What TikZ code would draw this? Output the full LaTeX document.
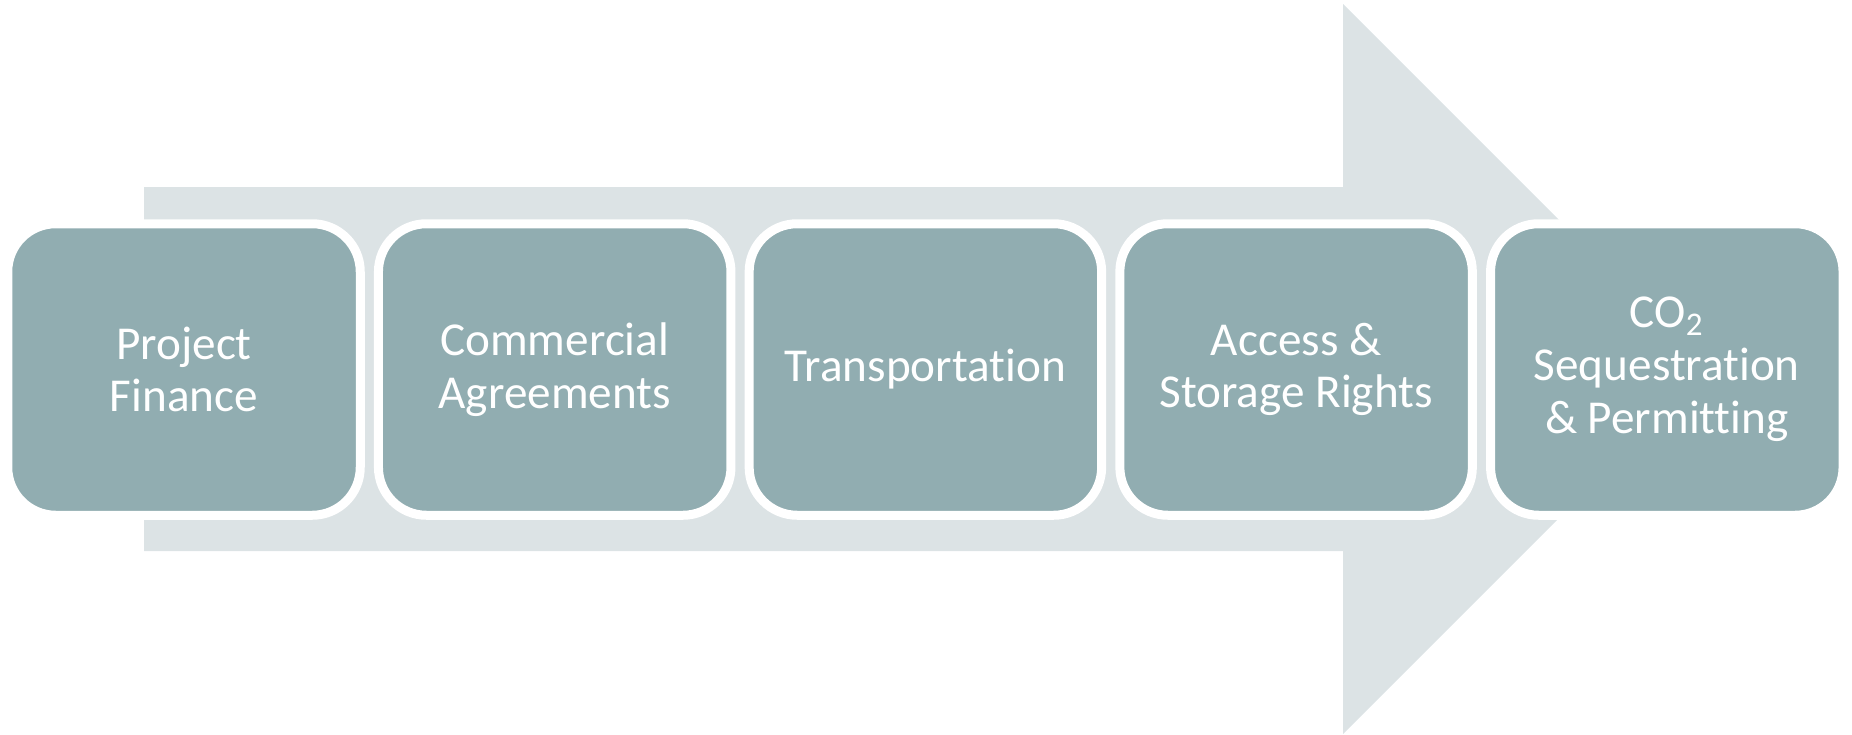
\documentclass[tikz,border=0pt]{standalone}
\usepackage{fontspec}
\setmainfont{Carlito}[Ligatures=NoCommon]
\definecolor{boxfill}{HTML}{91ADB1}
\definecolor{arrowfill}{HTML}{DCE3E5}
\begin{document}
\begin{tikzpicture}[x=0.5pt,y=-0.5pt,
  stagebox/.style={draw=white, line width=4.5pt, fill=boxfill, rounded corners=24pt,
    minimum width=176.25pt, minimum height=145.75pt, inner sep=0pt,
    text=white, align=center, font=\fontsize{23.6}{26.4}\selectfont}]
\useasboundingbox (0,0) rectangle (1852,734);
\fill[arrowfill] (144,187) -- (1343,187) -- (1343,4) -- (1708,369) -- (1343,734) -- (1343,551) -- (144,551) -- cycle;
\node[stagebox] (s1) at (184,369.5) {Project\\Finance};
\node[stagebox] (s2) at (554.7,369.5) {Commercial\\Agreements};
\node[stagebox] (s3) at (925.4,369.5) {Transportation};
\node[stagebox] (s4) at (1296.1,369.5) {Access \&\\Storage Rights};
\node[stagebox] (s5) at (1666.8,369.5) {CO\textsubscript{2}\\Sequestration\\\& Permitting};
\end{tikzpicture}
\end{document}
